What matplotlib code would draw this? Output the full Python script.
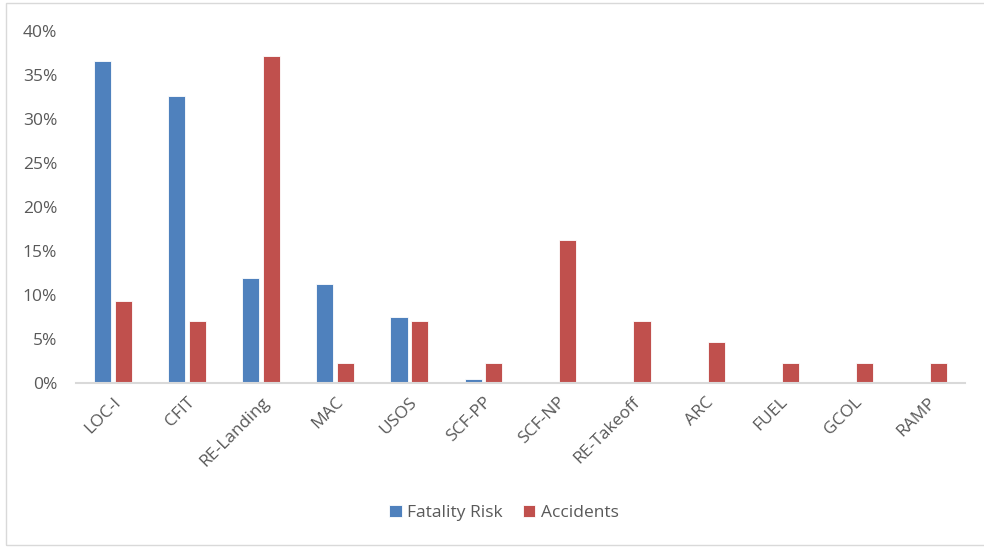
import matplotlib
matplotlib.use("Agg")
import matplotlib.pyplot as plt
import numpy as np
from matplotlib.ticker import PercentFormatter
from matplotlib.patches import Rectangle

categories = ["LOC-I", "CFIT", "RE-Landing", "MAC", "USOS", "SCF-PP",
              "SCF-NP", "RE-Takeoff", "ARC", "FUEL", "GCOL", "RAMP"]
fatality_risk = [36.6, 32.6, 11.9, 11.3, 7.5, 0.4, 0, 0, 0, 0, 0, 0]
accidents = [9.3, 7.0, 37.2, 2.3, 7.0, 2.3, 16.3, 7.0, 4.7, 2.3, 2.3, 2.3]
y_ticks = [0, 5, 10, 15, 20, 25, 30, 35, 40]

BLUE = "#4F81BD"
RED = "#C0504D"
TEXT = "#595959"

plt.rcParams['font.family'] = ['Open Sans', 'DejaVu Sans']

fig = plt.figure(figsize=(9.84, 5.48), dpi=100)
fig.patches.append(Rectangle((6 / 984, 3 / 548), 1.2, 542 / 548, transform=fig.transFigure,
                             fill=False, edgecolor="#D9D9D9", linewidth=1.0))

ax = fig.add_axes([76 / 984, 1 - 383 / 548, (965 - 76) / 984, (383 - 31) / 548])
x = np.arange(len(categories))
w = 0.23
ax.bar(x - 0.14, fatality_risk, width=w, color=BLUE, edgecolor="white", linewidth=0.6,
       label="Fatality Risk")
ax.bar(x + 0.14, accidents, width=w, color=RED, edgecolor="white", linewidth=0.6,
       label="Accidents")

ax.set_xlim(-0.5, len(categories) - 0.5)
ax.set_ylim(0, 40)
ax.set_yticks(y_ticks)
ax.yaxis.set_major_formatter(PercentFormatter(decimals=0))
ax.set_xticks(x)
ax.set_xticklabels(categories, rotation=45, ha="right", rotation_mode="anchor")

for s in ["top", "right", "left"]:
    ax.spines[s].set_visible(False)
ax.spines["bottom"].set_color("#D9D9D9")
ax.spines["bottom"].set_linewidth(1.5)
ax.tick_params(axis="both", length=0, labelsize=12.5, colors=TEXT)
ax.tick_params(axis="y", pad=13.5)
ax.tick_params(axis="x", pad=8)

leg = fig.legend(loc="center", bbox_to_anchor=(504 / 984, 1 - 513 / 548), ncol=2,
                 frameon=False, fontsize=12.5, handlelength=0.7, handleheight=0.7,
                 handletextpad=0.3, columnspacing=1.2)
for t in leg.get_texts():
    t.set_color(TEXT)

fig.savefig("out.png", dpi=100)
